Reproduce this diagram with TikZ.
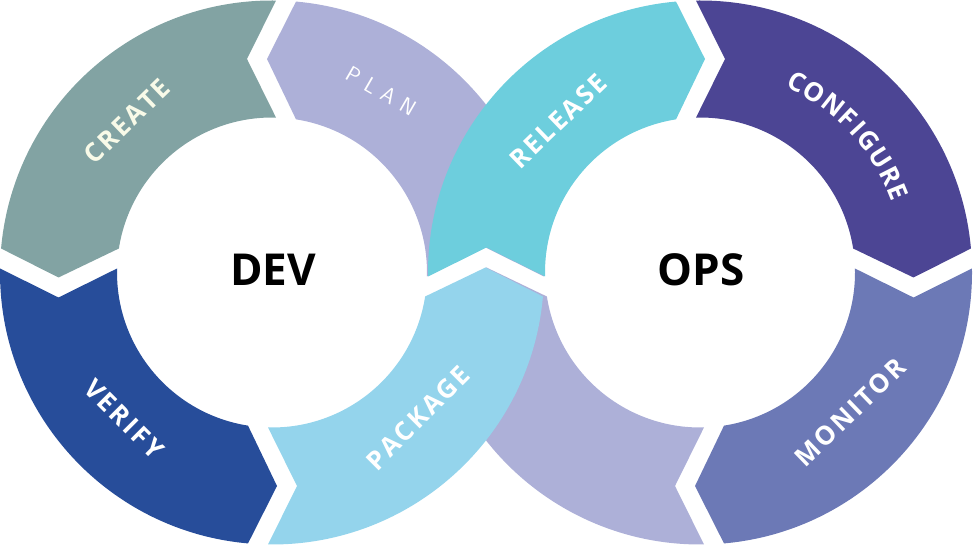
\documentclass[tikz,border=0pt]{standalone}
\usepackage{fontspec}
\setmainfont{Open Sans}
\usetikzlibrary{calc}
\definecolor{cCreate}{RGB}{130,163,163}
\definecolor{cPlan}{RGB}{173,176,216}
\definecolor{cVerify}{RGB}{39,77,154}
\definecolor{cPack}{RGB}{148,212,236}
\definecolor{cRel}{RGB}{109,206,221}
\definecolor{cConf}{RGB}{76,69,148}
\definecolor{cMon}{RGB}{108,121,182}
\definecolor{cCream}{RGB}{248,250,232}
% #1 centre, #2 start angle, #3 end angle, #4 direction (+1/-1), #5 colour
\newcommand\ringseg[5]{%
  \fill[#5] ($(#1)+({#2-(#4)*0.843}:272)$)
    arc[start angle={#2-(#4)*0.843}, end angle={#3-(#4)*5.062}, radius=272pt]
    -- ($(#1)+(#3:213.5)+({#3+(#4)*90}:5)$)
    -- ($(#1)+({#3-(#4)*8.907}:155)$)
    arc[start angle={#3-(#4)*8.907}, end angle={#2-(#4)*1.479}, radius=155pt]
    -- ($(#1)+(#2:213.5)+({#2+(#4)*90}:25)$)
    -- cycle;}
\newcommand\tk{\kern2.5pt}
\newcommand\pk{\kern8pt}
\begin{document}
\begin{tikzpicture}[x=1pt,y=1pt,
  lab/.style={text=white,font=\fontsize{26}{26}\selectfont\bfseries,inner sep=0pt},
  planlab/.style={text=white,font=\sffamily\fontsize{22}{22}\selectfont,inner sep=0pt},
  hub/.style={text=black,font=\fontsize{44}{44}\selectfont\bfseries,inner sep=0pt}]
\useasboundingbox (0,0) rectangle (973,545);
\coordinate (CL) at (272,272.5);
\coordinate (CR) at (700,272.5);
% lavender band (underneath at the crossing)
\ringseg{CR}{-90}{-180}{-1}{cPlan}
\ringseg{CL}{0}{90}{1}{cPlan}
% outer segments
\ringseg{CL}{90}{180}{1}{cCreate}
\ringseg{CL}{180}{270}{1}{cVerify}
\ringseg{CR}{90}{0}{-1}{cConf}
\ringseg{CR}{0}{-90}{-1}{cMon}
% crossing band on top
\ringseg{CL}{270}{360}{1}{cPack}
\ringseg{CR}{180}{90}{-1}{cRel}
% labels
\node[lab,text=cCream,rotate=44] (create) at (127,424) {C\tk R\tk E\tk A\tk T\tk E};
\node[planlab,rotate=-30] (plan) at (381,454) {P\pk L\pk A\pk N};
\node[lab,rotate=-45] (verify) at (124,126) {V\tk E\tk R\tk I\tk F\tk Y};
\node[lab,rotate=45] (package) at (418,127) {P\tk A\tk C\tk K\tk A\tk G\tk E};
\node[lab,rotate=44] (release) at (558,424) {R\tk E\tk L\tk E\tk A\tk S\tk E};
\node[lab,rotate=44] (monitor) at (850,133) {M\tk O\tk N\tk I\tk T\tk O\tk R};
\foreach \ch/\ang [count=\i] in {C/63.1,O/57.6,N/51.5,F/46.3,I/42.5,G/38.2,U/32.4,R/26.9,E/22.1}
  \node[lab,rotate=\ang-90] (conf\i) at ($(CR)+(\ang:214)$) {\ch};
\node[hub] (dev) at (273,275.5) {DEV};
\node[hub] (ops) at (701,275.5) {OPS};
\end{tikzpicture}
\end{document}
